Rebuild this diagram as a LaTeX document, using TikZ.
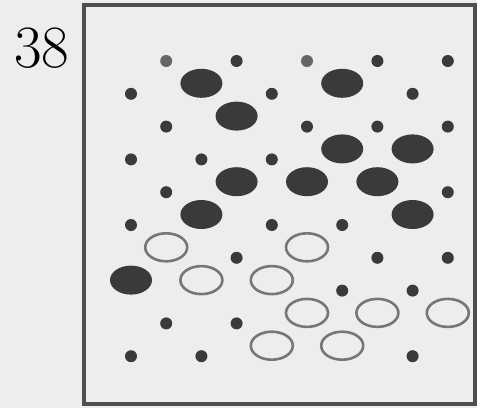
\documentclass[tikz,border=0pt]{standalone}
\usepackage{xcolor}
\usepackage{tikz}
\usetikzlibrary{shapes.geometric}
\definecolor{PaperGray}{HTML}{EDEDED}
\definecolor{InkGray}{HTML}{3A3A3A}
\definecolor{PaleInk}{HTML}{666666}
\definecolor{RingGray}{HTML}{767676}
\definecolor{FrameGray}{HTML}{4E4E4E}

\begin{document}
\begin{tikzpicture}[
  x=1pt,y=-1pt,
  spot/.style={circle,fill=InkGray,minimum size=12pt,inner sep=0pt},
  palespot/.style={spot,fill=PaleInk},
  darkegg/.style={ellipse,fill=InkGray,minimum width=42pt,minimum height=29pt,inner sep=0pt},
  openegg/.style={ellipse,draw=RingGray,line width=2.6pt,minimum width=42pt,minimum height=28pt,inner sep=0pt},
  frame/.style={draw=FrameGray,line width=4pt}
]
\fill[PaperGray] (0,0) rectangle (477,408);
\useasboundingbox (0,0) rectangle (477,408);
\node[font=\fontsize{60}{60}\selectfont,inner sep=0pt] (num) at (42,48) {38};
\draw[frame] (83.5,5) rectangle (475,404);
% small spots: column/row
\foreach \c/\r in {3/0,7/0,9/0,0/1,4/1,8/1,1/2,5/2,7/2,9/2,0/3,2/3,4/3,1/4,9/4,0/5,4/5,6/5,
                   3/6,7/6,9/6,6/7,8/7,1/8,3/8,0/9,2/9,8/9}
  \node[spot] (s-\c-\r) at ({131+35.2*\c},{61+32.8*\r}) {};
\foreach \c/\r in {1/0,5/0}
  \node[palespot] (s-\c-\r) at ({131+35.2*\c},{61+32.8*\r}) {};
% filled ovals
\foreach \c/\r in {2/1,6/1,3/2,6/3,8/3,3/4,5/4,7/4,2/5,8/5,0/7}
  \node[darkegg] (d-\c-\r) at ({131+35.2*\c},{50.5+32.8*\r}) {};
% open ovals
\foreach \c/\r in {1/6,5/6,2/7,4/7,5/8,7/8,9/8,4/9,6/9}
  \node[openegg] (o-\c-\r) at ({131+35.2*\c},{50.5+32.8*\r}) {};
\end{tikzpicture}
\end{document}
